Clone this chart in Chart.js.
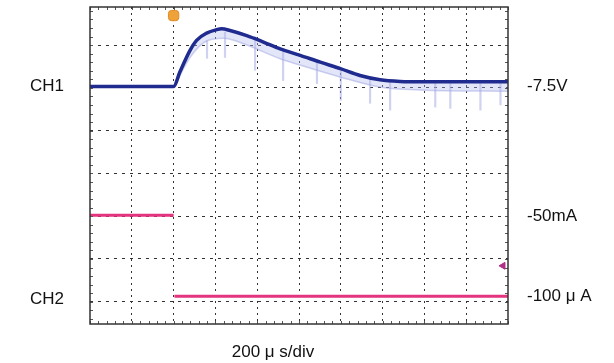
<!DOCTYPE html>
<html>
<head>
<meta charset="utf-8">
<script src="https://cdn.jsdelivr.net/npm/chart.js@4"></script>
<style>
  html, body { margin: 0; padding: 0; background: #fff; }
  #wrap { width: 614px; height: 363px; }
</style>
</head>
<body>
<div id="wrap"><canvas id="chart"></canvas></div>
<script>
// time axis in divisions (200 us/div), vertical in divisions
const xGrid = [1, 2, 3, 4, 5, 6, 7, 8, 9]
const yGrid = [-3, -2, -1, 0, 1, 2, 3]

// CH1 (voltage) main trace
const ch1T = [0, 2.0, 2.15, 2.39, 2.55, 2.79, 3.03, 3.15, 3.35, 3.75, 4.15, 4.55, 5.03, 5.51, 5.99, 6.46, 6.94, 7.42, 7.9, 8.86, 10]
const ch1V = [2.03, 2.03, 2.37, 2.87, 3.11, 3.28, 3.36, 3.38, 3.34, 3.22, 3.07, 2.91, 2.76, 2.60, 2.45, 2.29, 2.19, 2.15, 2.14, 2.14, 2.14]

// CH1 persistence band (lower edge)
const ch1LowT = [2.0, 2.4, 2.8, 3.2, 3.75, 4.55, 5.0, 6.0, 6.94, 7.9, 10]
const ch1LowV = [2.0, 2.72, 3.1, 3.16, 3.0, 2.68, 2.54, 2.25, 2.02, 1.95, 1.92]

// CH1 glitch spikes (time, tip, top)
const spikeT = [2.8, 3.23, 3.95, 4.62, 5.43, 6.0, 6.7, 7.18, 8.26, 8.62, 9.34, 9.82]
const spikeLo = [2.69, 2.71, 2.41, 2.17, 2.1, 1.71, 1.64, 1.48, 1.55, 1.52, 1.48, 1.6]
const spikeHi = [3.1, 3.3, 3.2, 2.85, 2.6, 2.4, 2.25, 2.15, 2.12, 2.12, 2.1, 2.1]

// CH2 (current)
const ch2T = [0, 2.0, 2.0, 2.02, 10]
const ch2V = [-0.98, -0.98, null, -2.87, -2.87]

// markers
const trigMark = [{ x: 2.0, y: 3.69 }]
const ch2Mark = [{ x: 9.88, y: -2.16 }]

// side labels
const leftLabels = [{ text: "CH1", y: 2.03 }, { text: "CH2", y: -2.95 }]
const rightLabels = [{ text: "-7.5V", y: 2.03 }, { text: "-50mA", y: -1.0 }, { text: "-100 μ A", y: -2.87 }]
const timeLabel = "200 μ s/div"

const toPts = (xs, ys) => xs.map((x, i) => ({ x: x, y: ys[i] }))

const scopePlugin = {
    id: 'scope',
    afterDatasetsDraw(chart) {
        const ctx = chart.ctx
        const a = chart.chartArea
        const xs = chart.scales.x
        const ys = chart.scales.y
        ctx.save()
        // minor ticks along frame
        ctx.strokeStyle = '#555'
        ctx.lineWidth = 1
        ctx.beginPath()
        for (let v = 0; v <= 10.001; v += 0.2) {
            const px = Math.round(xs.getPixelForValue(v)) + 0.5
            ctx.moveTo(px, a.top); ctx.lineTo(px, a.top + 3)
            ctx.moveTo(px, a.bottom); ctx.lineTo(px, a.bottom - 3)
        }
        for (let v = -3.4; v <= 3.9; v += 0.2) {
            const py = Math.round(ys.getPixelForValue(v)) + 0.5
            ctx.moveTo(a.left, py); ctx.lineTo(a.left + 3, py)
            ctx.moveTo(a.right, py); ctx.lineTo(a.right - 3, py)
        }
        ctx.stroke()
        // frame
        ctx.strokeStyle = '#333'
        ctx.lineWidth = 1.5
        ctx.strokeRect(a.left, a.top, a.right - a.left, a.bottom - a.top)
        // texts
        ctx.fillStyle = '#111'
        ctx.font = '17px "Liberation Sans", Arial, sans-serif'
        ctx.textBaseline = 'middle'
        ctx.textAlign = 'left'
        leftLabels.forEach(l => ctx.fillText(l.text, 30, ys.getPixelForValue(l.y)))
        rightLabels.forEach(l => ctx.fillText(l.text, a.right + 19, ys.getPixelForValue(l.y)))
        ctx.textAlign = 'center'
        ctx.fillText(timeLabel, 273, 352)
        ctx.restore()
    }
}

const config = {
    type: 'scatter',
    data: {
        datasets: [
            {
                label: 'CH1',
                data: toPts(ch1T, ch1V),
                showLine: true,
                borderColor: '#1f2b8e',
                borderWidth: 3.5,
                pointRadius: 0,
                cubicInterpolationMode: 'monotone',
                order: 1
            },
            {
                label: 'CH1 band',
                data: toPts(ch1LowT, ch1LowV),
                showLine: true,
                borderColor: 'rgba(160,165,225,0.5)',
                backgroundColor: 'rgba(175,180,235,0.35)',
                borderWidth: 1.5,
                pointRadius: 0,
                cubicInterpolationMode: 'monotone',
                fill: 0,
                order: 2
            },
            {
                type: 'bar',
                label: 'CH1 spikes',
                data: spikeT.map((t, i) => ({ x: t, y: [spikeLo[i], spikeHi[i]] })),
                backgroundColor: 'rgba(160,165,225,0.5)',
                barThickness: 1.5,
                order: 3
            },
            {
                label: 'CH2',
                data: toPts(ch2T, ch2V),
                showLine: true,
                spanGaps: false,
                borderColor: '#e4337f',
                borderWidth: 3,
                pointRadius: 0,
                order: 0
            },
            {
                label: 'trigger',
                data: trigMark,
                pointStyle: 'rectRounded',
                pointRadius: 6,
                backgroundColor: '#f0a23a',
                borderColor: '#e08a20',
                borderWidth: 1,
                order: 0
            },
            {
                label: 'ch2 ref',
                data: ch2Mark,
                pointStyle: 'triangle',
                rotation: -90,
                pointRadius: 4,
                backgroundColor: '#b0308a',
                borderColor: '#b0308a',
                order: 0
            }
        ]
    },
    options: {
        responsive: true,
        maintainAspectRatio: false,
        animation: false,
        layout: { padding: { left: 90, right: 106, top: 6, bottom: 39 } },
        plugins: { legend: { display: false }, tooltip: { enabled: false } },
        scales: {
            x: {
                type: 'linear',
                min: 0,
                max: 10,
                offset: false,
                afterBuildTicks: s => { s.ticks = xGrid.map(v => ({ value: v })) },
                ticks: { display: false },
                grid: { color: '#333', lineWidth: 1, drawTicks: false, offset: false },
                border: { display: false, dash: [2, 4] }
            },
            y: {
                type: 'linear',
                min: -3.52,
                max: 3.89,
                afterBuildTicks: s => { s.ticks = yGrid.map(v => ({ value: v })) },
                ticks: { display: false },
                grid: { color: '#333', lineWidth: 1, drawTicks: false },
                border: { display: false, dash: [3, 5] }
            }
        }
    },
    plugins: [scopePlugin]
}

new Chart(document.getElementById('chart'), config)
</script>
</body>
</html>
